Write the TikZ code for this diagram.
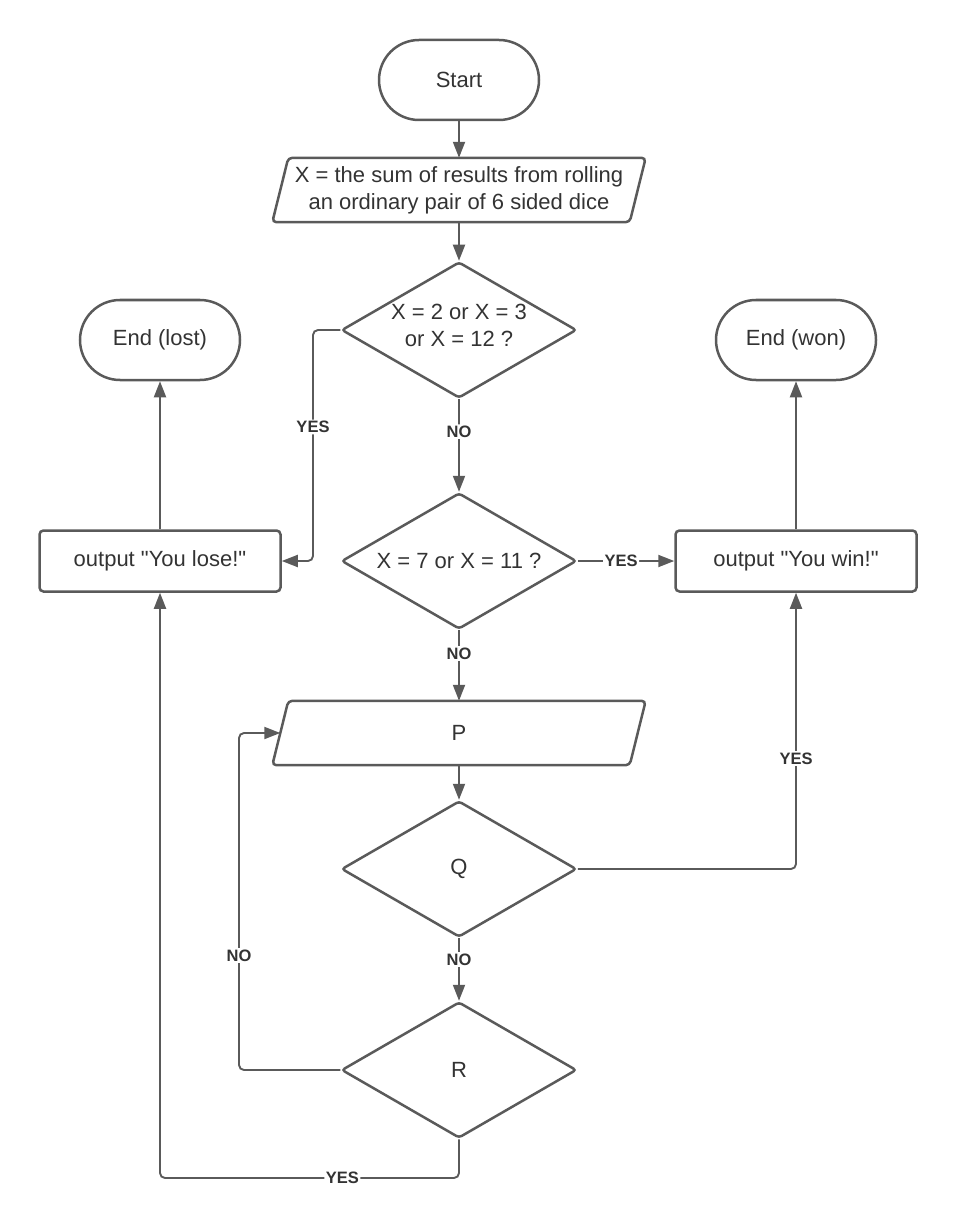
\documentclass[tikz,border=0pt]{standalone}
\usepackage{fontspec}
\setmainfont{Liberation Sans}[Ligatures=TeXOff]
\usetikzlibrary{shapes.geometric,arrows.meta}
\definecolor{lc}{RGB}{90,90,90}
\definecolor{tc}{RGB}{51,51,51}
\newcommand\drawpara[1]{\draw[shp] ([xshift=16pt]#1.north west) -- (#1.north east) -- ([xshift=-16pt]#1.south east) -- (#1.south west) -- cycle;}
\begin{document}
\begin{tikzpicture}[x=1pt,y=-1pt,
 shp/.style={draw=lc, line width=2.5pt, fill=white, rounded corners=4pt},
 base/.style={draw=lc, line width=2.5pt, fill=white, text=tc, font=\fontsize{22}{27}\selectfont, align=center, inner sep=0pt},
 term/.style={base, rectangle, rounded corners=40pt, minimum width=160pt, minimum height=80pt},
 proc/.style={base, rectangle, rounded corners=4pt, minimum width=241pt, minimum height=61pt},
 io/.style={text=tc, font=\fontsize{22}{27}\selectfont, align=center, inner sep=0pt, rectangle, minimum width=373pt, minimum height=64pt},
 dec/.style={base, diamond, minimum width=235pt, minimum height=136pt, rounded corners=3pt},
 txt/.style={text=tc, font=\fontsize{22}{27}\selectfont, align=center, inner sep=0pt},
 conn/.style={draw=lc, line width=1.9pt, rounded corners=5pt},
 arr/.style={conn, -{Triangle[length=16pt,width=12pt]}},
 lab/.style={fill=white, text=tc, font=\bfseries\fontsize{16.5}{18}\selectfont, inner sep=1.5pt}
]
\useasboundingbox (0,0) rectangle (956,1230);

\node[term] (start) at (459,80) {Start};
\node[io] (in1) at (459,190) {};
\drawpara{in1}
\node[txt] (in1t) at (in1) {X = the sum of results from rolling\\an ordinary pair of 6 sided dice};
\node[dec] (d1) at (459,330) {};
\node[txt] (d1t) at (459,325) {X = 2 or X = 3\\or X = 12 ?};
\node[term] (lost) at (160,340) {End (lost)};
\node[term] (won) at (796,340) {End (won)};
\node[proc] (lose) at (160,561) {output "You lose!"};
\node[proc] (win) at (796,561) {output "You win!"};
\node[dec] (d2) at (459,561) {};
\node[txt] (d2t) at (d2) {X = 7 or X = 11 ?};
\node[io] (p) at (459,733) {};
\drawpara{p}
\node[txt] (pt) at (p) {P};
\node[dec] (q) at (459,869) {};
\node[txt] (qt) at (q) {Q};
\node[dec] (r) at (459,1070) {};
\node[txt] (rt) at (r) {R};
\coordinate (rb) at (160,1178);
\coordinate (pw) at ([xshift=8pt]p.west);
\coordinate (pl) at (239,733);
\coordinate (yl) at (313,561);

\draw[arr] (start) -- (in1);
\draw[arr] (in1) -- (d1);
\draw[arr] (d1) -- node[lab, pos=0.35]{NO} (d2);
\draw[arr] (d2.east) -- node[lab, pos=0.45]{YES} (win.west);
\draw[arr] (d2) -- node[lab, pos=0.33]{NO} (p);
\draw[arr] (p) -- (q);
\draw[arr] (q) -- node[lab, pos=0.34]{NO} (r);
\draw[arr] (q.east) -| node[lab, pos=0.7]{YES} (win.south);
\draw[arr] (lose) -- (lost);
\draw[arr] (win) -- (won);
\draw[arr] (d1.west) -| node[lab, pos=0.71]{YES} (yl) -- (lose.east);
\draw[arr] (r.west) -| node[lab, pos=0.67]{NO} (pl) -- (pw);
\draw[arr] (r.south) |- node[lab, pos=0.695]{YES} (rb) -- (lose.south);
\end{tikzpicture}
\end{document}
